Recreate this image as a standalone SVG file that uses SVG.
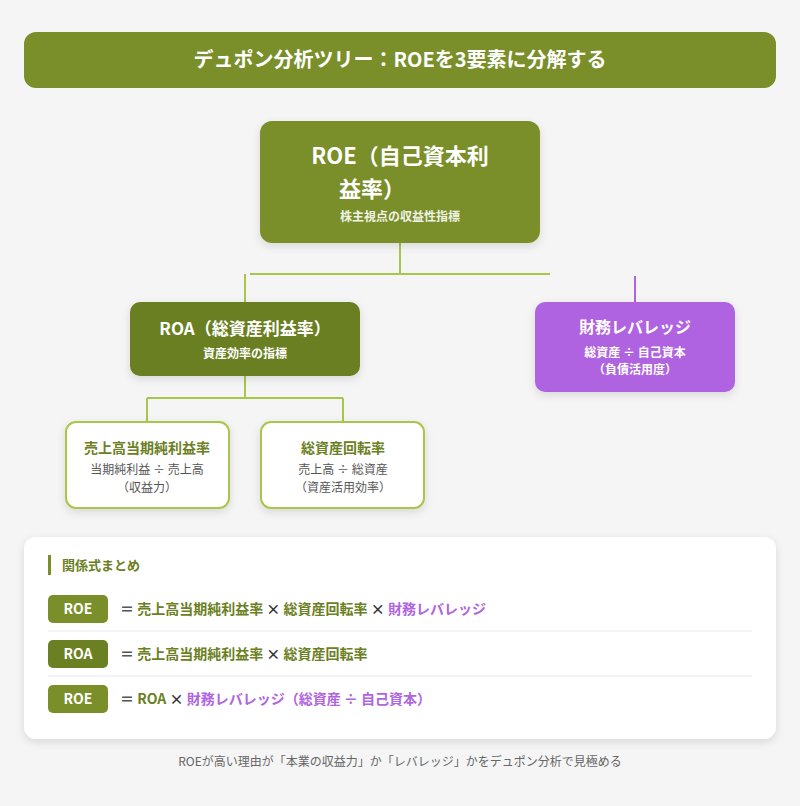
<svg xmlns="http://www.w3.org/2000/svg" width="800" height="806" viewBox="0 0 800 806">
<defs>
<filter id="sh" x="-20%" y="-20%" width="140%" height="150%"><feDropShadow dx="0" dy="3" stdDeviation="4" flood-color="#000" flood-opacity="0.12"/></filter>
<style>
text{font-family:"Noto Sans CJK JP","Noto Sans",sans-serif;text-anchor:middle}
.w{fill:#fff;font-weight:bold}
.g{fill:#6b7f23;font-weight:bold}
.s{fill:#555;font-size:12px}
.ln{stroke:#a8c64a;stroke-width:2;fill:none}
.leaf{fill:#fff;stroke:#a8c64a;stroke-width:2}
.f{text-anchor:start;font-size:14px;font-weight:bold}
</style>
</defs>
<rect width="800" height="806" fill="#f5f5f5"/>
<g id="title"><rect x="24" y="32" width="752" height="56" rx="12" fill="#7a8f2a"/><text x="400" y="67" class="w" font-size="20">デュポン分析ツリー：ROEを3要素に分解する</text></g>
<g id="connectors">
<path class="ln" d="M400 243V274M250 274H550M245 274V302M245 376V398M147 398H343M147 398V422M343 398V422"/>
<path d="M635 276V302" stroke="#b064e0" stroke-width="2"/>
</g>
<g id="roe"><rect x="260" y="121" width="280" height="122" rx="12" fill="#7a8f2a" filter="url(#sh)"/><text x="400" y="164" class="w" font-size="22">ROE（自己資本利</text><text x="372" y="197" class="w" font-size="22">益率）</text><text x="400" y="221" class="w" font-size="12" fill-opacity="0.9">株主視点の収益性指標</text></g>
<g id="roa"><rect x="130" y="302" width="230" height="74" rx="10" fill="#6b7f23" filter="url(#sh)"/><text x="245" y="335" class="w" font-size="17">ROA（総資産利益率）</text><text x="245" y="358" class="w" font-size="12" font-weight="normal">資産効率の指標</text></g>
<g id="lev"><rect x="535" y="302" width="200" height="90" rx="10" fill="#b064e0" filter="url(#sh)"/><text x="635" y="333" class="w" font-size="16">財務レバレッジ</text><text x="635" y="357" class="w" font-size="12">総資産 ÷ 自己資本</text><text x="635" y="374" class="w" font-size="12">（負債活用度）</text></g>
<g id="leaf1"><rect x="66" y="422" width="163" height="86" rx="10" class="leaf" filter="url(#sh)"/><text x="147" y="453" class="g" font-size="14">売上高当期純利益率</text><text x="147" y="474" class="s">当期純利益 ÷ 売上高</text><text x="147" y="492" class="s">（収益力）</text></g>
<g id="leaf2"><rect x="261" y="422" width="163" height="86" rx="10" class="leaf" filter="url(#sh)"/><text x="343" y="453" class="g" font-size="14">総資産回転率</text><text x="343" y="474" class="s">売上高 ÷ 総資産</text><text x="343" y="492" class="s">（資産活用効率）</text></g>
<g id="summary">
<rect x="24" y="537" width="752" height="202" rx="12" fill="#fff" filter="url(#sh)"/>
<rect x="48" y="555" width="3" height="20" fill="#7a8f2a"/>
<text x="62" y="570" class="g" font-size="13" style="text-anchor:start">関係式まとめ</text>
<rect x="48" y="595" width="60" height="28" rx="5" fill="#7a8f2a"/><text x="78" y="614" class="w" font-size="14">ROE</text>
<text x="120" y="614" class="f"><tspan fill="#555">＝ </tspan><tspan fill="#6b7f23">売上高当期純利益率</tspan><tspan fill="#333"> × </tspan><tspan fill="#6b7f23">総資産回転率</tspan><tspan fill="#333"> × </tspan><tspan fill="#b064e0">財務レバレッジ</tspan></text>
<line x1="48" y1="631" x2="752" y2="631" stroke="#e8e8e8"/>
<rect x="48" y="640" width="60" height="28" rx="5" fill="#6b7f23"/><text x="78" y="659" class="w" font-size="14">ROA</text>
<text x="120" y="659" class="f"><tspan fill="#555">＝ </tspan><tspan fill="#6b7f23">売上高当期純利益率</tspan><tspan fill="#333"> × </tspan><tspan fill="#6b7f23">総資産回転率</tspan></text>
<line x1="48" y1="676" x2="752" y2="676" stroke="#e8e8e8"/>
<rect x="48" y="685" width="60" height="28" rx="5" fill="#7a8f2a"/><text x="78" y="704" class="w" font-size="14">ROE</text>
<text x="120" y="704" class="f"><tspan fill="#555">＝ </tspan><tspan fill="#6b7f23">ROA</tspan><tspan fill="#333"> × </tspan><tspan fill="#b064e0">財務レバレッジ（総資産 ÷ 自己資本）</tspan></text>
</g>
<text x="400" y="766" font-size="12" fill="#666">ROEが高い理由が「本業の収益力」か「レバレッジ」かをデュポン分析で見極める</text>
</svg>
